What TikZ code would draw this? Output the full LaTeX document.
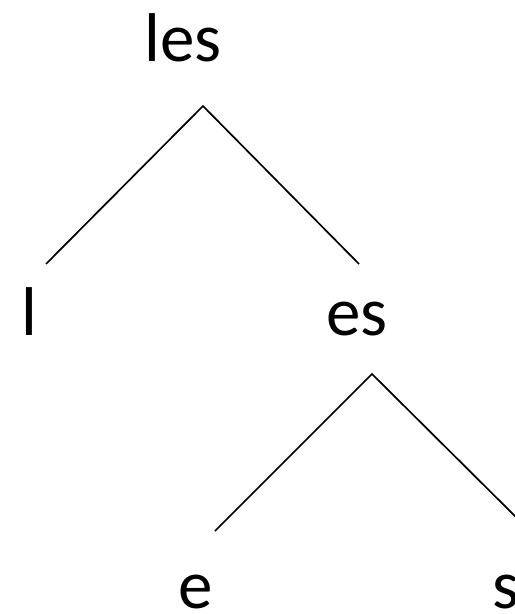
\documentclass[tikz,border=0pt]{standalone}
\usepackage{fontspec}
\setmainfont{Carlito}
\begin{document}
\begin{tikzpicture}[x=1bp,y=-1bp,
  lbl/.style={inner sep=0pt,anchor=base,font=\fontsize{69bp}{80bp}\selectfont},
  edge/.style={line width=1.7bp,line cap=butt}]
\clip (0,0) rectangle (515,614);
\node[lbl] (les) at (183,62) {les};
\node[lbl] (l) at (29,335) {l};
\node[lbl] (es) at (357,335) {es};
\node[lbl] (e) at (196,608) {e};
\node[lbl] (s) at (506,608) {s};
\coordinate (top1) at (203,106);
\coordinate (l1) at (46,264);
\coordinate (r1) at (359,264);
\coordinate (top2) at (372,374);
\coordinate (l2) at (215,531);
\coordinate (r2) at (530,531);
\draw[edge] (l1) -- (top1) -- (r1);
\draw[edge] (l2) -- (top2) -- (r2);
\end{tikzpicture}
\end{document}
